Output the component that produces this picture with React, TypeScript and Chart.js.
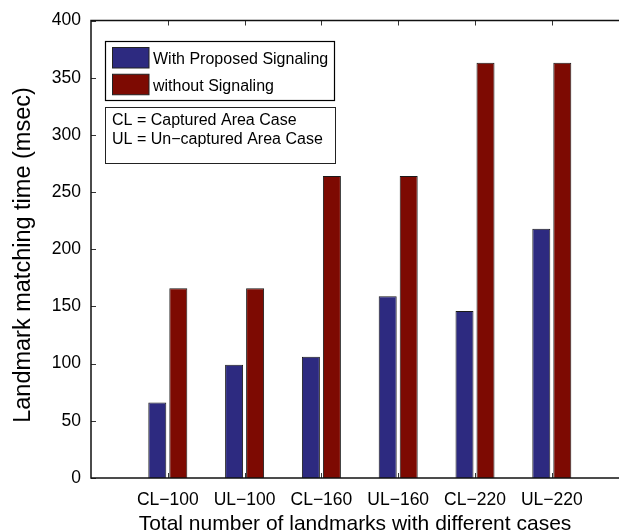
import React, { useEffect, useRef } from 'react';
import { Chart, registerables } from 'chart.js';

Chart.register(...registerables);

const categories = ['CL\u2212100', 'UL\u2212100', 'CL\u2212160', 'UL\u2212160', 'CL\u2212220', 'UL\u2212220'];
const withSignaling = [66, 99, 106, 159, 146, 218];
const withoutSignaling = [166, 166, 264, 264, 363, 363];
const seriesNames = ['With Proposed Signaling', 'without Signaling'];
const seriesColors = ['#2D2A80', '#7D0A02'];
const noteLines = ['CL = Captured Area Case', 'UL = Un\u2212captured Area Case'];
const yMin = 0;
const yMax = 400;
const yStep = 50;
const xTitle = 'Total number of landmarks with different cases';
const yTitle = 'Landmark matching time (msec)';

const FONT = '"Liberation Sans", Arial, Helvetica, sans-serif';
const W = 660;
const H = 535;

const framePlugin = {
  id: 'matlabFrame',
  afterDatasetsDraw(chart: any) {
    const { ctx, chartArea: a, scales } = chart;
    const xs = scales.x;
    const ys = scales.y;
    ctx.save();
    // inward ticks
    ctx.strokeStyle = '#333';
    ctx.lineWidth = 1;
    ctx.beginPath();
    ys.ticks.forEach((t: any) => {
      const py = Math.round(ys.getPixelForValue(t.value)) + 0.5;
      ctx.moveTo(a.left, py);
      ctx.lineTo(a.left + 5, py);
    });
    xs.ticks.forEach((t: any) => {
      if (t.value <= 0 || t.value > categories.length) return;
      const px = Math.round(xs.getPixelForValue(t.value)) + 0.5;
      ctx.moveTo(px, a.top);
      ctx.lineTo(px, a.top + 5);
      ctx.moveTo(px, a.bottom);
      ctx.lineTo(px, a.bottom - 5);
    });
    ctx.stroke();
    // frame
    ctx.strokeStyle = '#111';
    ctx.lineWidth = 1.5;
    ctx.strokeRect(a.left, a.top, a.right - a.left, a.bottom - a.top);

    // axis titles
    ctx.fillStyle = '#000';
    ctx.textAlign = 'center';
    ctx.textBaseline = 'alphabetic';
    ctx.font = `21px ${FONT}`;
    ctx.fillText(xTitle, 355, 529.5);
    ctx.save();
    ctx.translate(30, 255);
    ctx.rotate(-Math.PI / 2);
    ctx.font = `23.5px ${FONT}`;
    ctx.fillText(yTitle, 0, 0);
    ctx.restore();

    // legend box
    ctx.fillStyle = '#fff';
    ctx.fillRect(105.5, 41.5, 229, 59);
    ctx.strokeStyle = '#000';
    ctx.lineWidth = 1.2;
    ctx.strokeRect(105.5, 41.5, 229, 59);
    ctx.font = `16px ${FONT}`;
    ctx.textBaseline = 'alphabetic';
    ctx.textAlign = 'left';
    chart.data.datasets.forEach((ds: any, i: number) => {
      const sy = 47.5 + i * 26.75;
      ctx.fillStyle = ds.backgroundColor;
      ctx.fillRect(112.5, sy, 36.5, 20.5);
      ctx.strokeStyle = '#222';
      ctx.lineWidth = 1;
      ctx.strokeRect(112.5, sy, 36.5, 20.5);
      ctx.fillStyle = '#000';
      ctx.fillText(ds.label, 153, 63.5 + i * 27);
    });

    // note box
    ctx.fillStyle = '#fff';
    ctx.fillRect(105.5, 107.5, 230, 56);
    ctx.strokeStyle = '#222';
    ctx.lineWidth = 1;
    ctx.strokeRect(105.5, 107.5, 230, 56);
    ctx.fillStyle = '#000';
    noteLines.forEach((line, i) => {
      ctx.fillText(line, 112, 125 + i * 19);
    });
    ctx.restore();
  },
};

export default function App() {
  const ref = useRef<HTMLCanvasElement>(null);

  useEffect(() => {
    if (!ref.current) return;
    const chart = new Chart(ref.current, {
      type: 'bar',
      data: {
        datasets: [
          {
            label: seriesNames[0],
            data: withSignaling.map((v, i) => ({ x: i + 1, y: v })),
            backgroundColor: seriesColors[0],
            borderColor: '#1a1a1a',
            borderWidth: 1,
            categoryPercentage: 0.547,
            barPercentage: 0.857,
          },
          {
            label: seriesNames[1],
            data: withoutSignaling.map((v, i) => ({ x: i + 1, y: v })),
            backgroundColor: seriesColors[1],
            borderColor: '#1a1a1a',
            borderWidth: 1,
            categoryPercentage: 0.547,
            barPercentage: 0.857,
          },
        ],
      } as any,
      options: {
        responsive: false,
        animation: false,
        devicePixelRatio: 1,
        layout: { padding: { top: 19, left: 0, right: W - 628.6, bottom: 0 } },
        plugins: {
          legend: { display: false },
          tooltip: { enabled: false },
        },
        scales: {
          x: {
            type: 'linear',
            min: 0,
            max: categories.length + 1,
            offset: false,
            grid: { display: false, drawTicks: false, offset: false },
            border: { display: false },
            ticks: {
              stepSize: 1,
              autoSkip: false,
              maxRotation: 0,
              minRotation: 0,
              padding: 12,
              color: '#000',
              font: { family: FONT, size: 17.5 },
              callback: (v: any) => categories[Number(v) - 1] ?? '',
            },
            title: { display: false },
            afterFit: (s: any) => {
              s.height = H - 478;
            },
          },
          y: {
            min: yMin,
            max: yMax,
            grid: { display: false, drawTicks: false },
            border: { display: false },
            ticks: {
              stepSize: yStep,
              padding: 10,
              color: '#000',
              font: { family: FONT, size: 17.5 },
            },
            title: { display: false },
            afterFit: (s: any) => {
              s.width = 91;
            },
          },
        },
      } as any,
      plugins: [framePlugin],
    });
    return () => chart.destroy();
  }, []);

  return (
    <div style={{ position: 'fixed', left: 0, top: 0, width: 619, height: 531, overflow: 'hidden', background: '#fff' }}>
      <canvas ref={ref} width={W} height={H} style={{ display: 'block', width: W, height: H }} />
    </div>
  );
}
